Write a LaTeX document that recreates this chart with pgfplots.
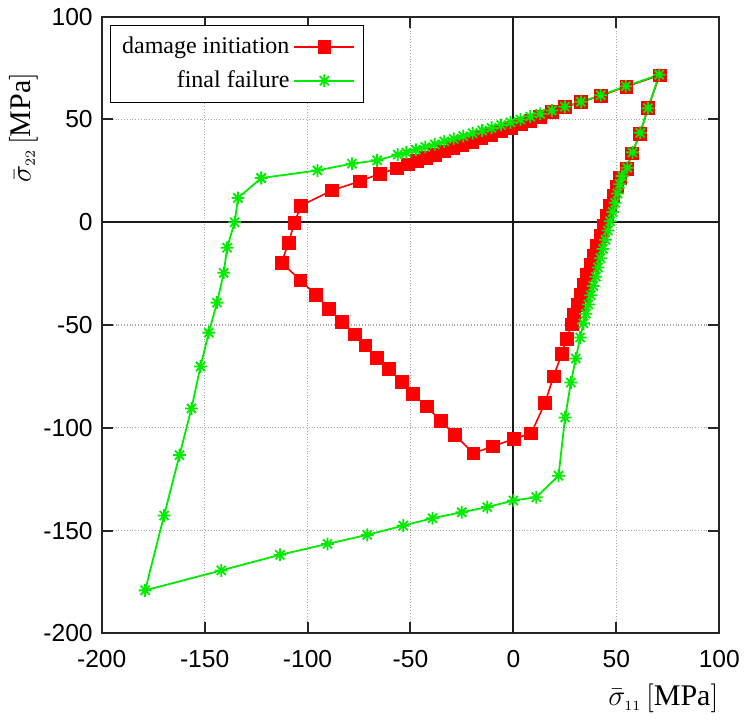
\documentclass[border=0pt]{standalone}
\usepackage{fontspec}
\setmainfont{Liberation Serif}
\newfontfamily\tickfont{Liberation Sans}
\usepackage{pgfplots}
\pgfplotsset{compat=1.18}
\pgfdeclareplotmark{gpstar}{%
  \pgfpathmoveto{\pgfqpoint{-\pgfplotmarksize}{0pt}}\pgfpathlineto{\pgfqpoint{\pgfplotmarksize}{0pt}}%
  \pgfpathmoveto{\pgfqpoint{0pt}{-\pgfplotmarksize}}\pgfpathlineto{\pgfqpoint{0pt}{\pgfplotmarksize}}%
  \pgfpathmoveto{\pgfqpoint{-0.71\pgfplotmarksize}{-0.71\pgfplotmarksize}}\pgfpathlineto{\pgfqpoint{0.71\pgfplotmarksize}{0.71\pgfplotmarksize}}%
  \pgfpathmoveto{\pgfqpoint{-0.71\pgfplotmarksize}{0.71\pgfplotmarksize}}\pgfpathlineto{\pgfqpoint{0.71\pgfplotmarksize}{-0.71\pgfplotmarksize}}%
  \pgfusepathqstroke}
\definecolor{gpred}{RGB}{255,0,0}
\definecolor{gpgreen}{RGB}{0,235,0}
\pgfplotsset{
  redstyle/.style={draw=gpred, color=gpred, line width=0.8pt, mark=square*, mark size=3.2pt, mark options={solid, fill=gpred, draw=gpred, line width=0.3pt}},
  greenstyle/.style={draw=gpgreen, color=gpgreen, line width=0.9pt, mark=gpstar, mark size=3.2pt, mark options={solid, draw=gpgreen, line width=0.9pt}},
}
\begin{document}
\begin{tikzpicture}
\useasboundingbox (-50.85pt,-43.35pt) rectangle (321.65pt,316.65pt);
\begin{axis}[
  at={(0pt,0pt)}, anchor=south west,
  scale only axis, width=308.8pt, height=308.3pt,
  xmin=-200, xmax=100, ymin=-200, ymax=100,
  xtick={-200,-150,...,100}, ytick={-200,-150,...,100},
  /pgf/number format/assume math mode=true,
  tick label style={font=\tickfont\fontsize{12.3}{14}\selectfont},
  xticklabel style={yshift=-5pt},
  yticklabel style={xshift=-1pt},
  grid=major,
  major grid style={densely dotted, gray!70, line width=0.6pt},
  axis line style={line width=1pt, black!85},
  major tick length=5.5pt,
  every tick/.style={black!85, line width=1pt},
  xlabel={$\bar{\sigma}_{\scriptscriptstyle 11}\left[\mathrm{MPa}\right]$},
  ylabel={$\bar{\sigma}_{\scriptscriptstyle 22}\left[\mathrm{MPa}\right]$},
  label style={font=\fontsize{15}{18}\selectfont},
  xlabel style={at={(axis description cs:1.01,0)}, anchor=north east, yshift=-22pt},
  ylabel style={at={(axis description cs:-0.092,0.82)}, anchor=south, rotate=0},
  legend plot pos=right,
  legend cell align=right,
  legend style={at={(axis description cs:0.013,0.987)}, anchor=north west,
    font=\fontsize{12}{14}\selectfont,
    row sep=3pt, inner xsep=4pt, inner ysep=4pt},
  legend image code/.code={\draw[mark repeat=2,mark phase=2,#1] plot coordinates {(0pt,0pt) (15pt,0pt) (30pt,0pt)};},
]
\draw[black!90, line width=1pt] (axis cs:0,-200) -- (axis cs:0,100);
\draw[black!90, line width=1pt] (axis cs:-200,0) -- (axis cs:100,0);
\addlegendimage{redstyle}
\addlegendentry{damage initiation}
\addlegendimage{greenstyle}
\addlegendentry{final failure}
\addplot[redstyle, forget plot] coordinates {
(-103.2,8.1) (-106.4,-0.3) (-109.3,-10) (-112.6,-19.7) (-103.5,-28.2) (-96.1,-35.2)
(-89.7,-42) (-83.2,-48.6) (-77.1,-54.5) (-72,-59.9) (-66.2,-65.8) (-60.5,-71.5)
(-54.2,-77.5) (-49,-83.6) (-42.2,-89.6) (-35.3,-96.6) (-28.5,-103.5) (-19.5,-112.4)
(-10,-109) (0,-105.5) (8.6,-102.7) (15.3,-88) (19.5,-75) (23.4,-64.2) (25.9,-56.6)
(28.4,-49.7) (29.5,-44.9) (31.1,-40.1) (32.6,-35.3) (34.2,-30.5) (35.8,-25.7)
(37.4,-20.9) (39.0,-16.1) (40.6,-11.3) (42.2,-6.5) (43.7,-1.7) (45.3,3.1) (46.9,7.9)
(48.5,12.7) (50.1,17.5) (51.5,21.8) (54.9,25.9) (57.6,33.5) (61.4,43) (65.4,55.5)
(71,71.5) (54.8,66) (42.4,61.5) (32.9,58.5) (25.1,56) (18.7,53.6) (13,51.3) (8.2,49.5)
(3.4,47.7) (-1.4,46.0) (-6.2,44.3) (-11,42.6) (-15.6,41.0) (-20.2,39.3) (-24.8,37.7)
(-29.3,36.1) (-33.8,34.5) (-38.2,32.9) (-42.6,31.3) (-47,29.8) (-51.3,28.2)
(-56.5,26.2) (-65,23.6) (-74.7,19.9) (-88.1,15.5) (-103.2,8.1)
};
\addplot[greenstyle, forget plot] coordinates {
(-122.5,21.5) (-133.8,11.8) (-135.4,0) (-139.1,-12.4) (-140.7,-24.6) (-144,-39.1)
(-148,-53.7) (-152,-70.2) (-156.4,-90.6) (-162.2,-113.3) (-169.7,-142.7) (-178.9,-179.1)
(-141.9,-169.4) (-113.4,-161.8) (-90.3,-156.5) (-71,-152.1) (-53.5,-147.6) (-39.3,-144)
(-25.1,-141.1) (-12.7,-138.6) (0,-135.4) (11.1,-133.8) (21.9,-123.3) (25.1,-95)
(27.9,-78) (30.3,-66.3) (32.4,-56.1) (34,-49.2) (35.2,-44.5) (36.4,-40) (37.6,-35.5)
(38.8,-31) (40.0,-26.5) (41.1,-22) (42.3,-17.5) (43.5,-13) (44.7,-8.5) (45.9,-4)
(47.0,0.5) (48.2,5) (49.4,9.5) (50.6,14) (51.7,18.5) (52.8,22.5) (55.3,26.5) (57.8,34)
(61.6,43.5) (65.4,55.5) (70.8,71.8) (54.6,66.2) (42.4,61.8) (32.8,58.6) (25,56.2)
(18.7,54.4) (13,52.8) (8.2,51.4) (3.4,50) (-1.4,48.6) (-6,47.3) (-10.6,45.9)
(-15.2,44.6) (-19.8,43.3) (-24.4,41.9) (-29,40.6) (-33.6,39.3) (-38.2,37.9)
(-42.8,36.6) (-47.4,35.3) (-52,33.9) (-56.2,32.9) (-66.2,30.1) (-78.4,28.5)
(-95.2,25.2) (-122.5,21.5)
};
\end{axis}
\end{tikzpicture}
\end{document}
